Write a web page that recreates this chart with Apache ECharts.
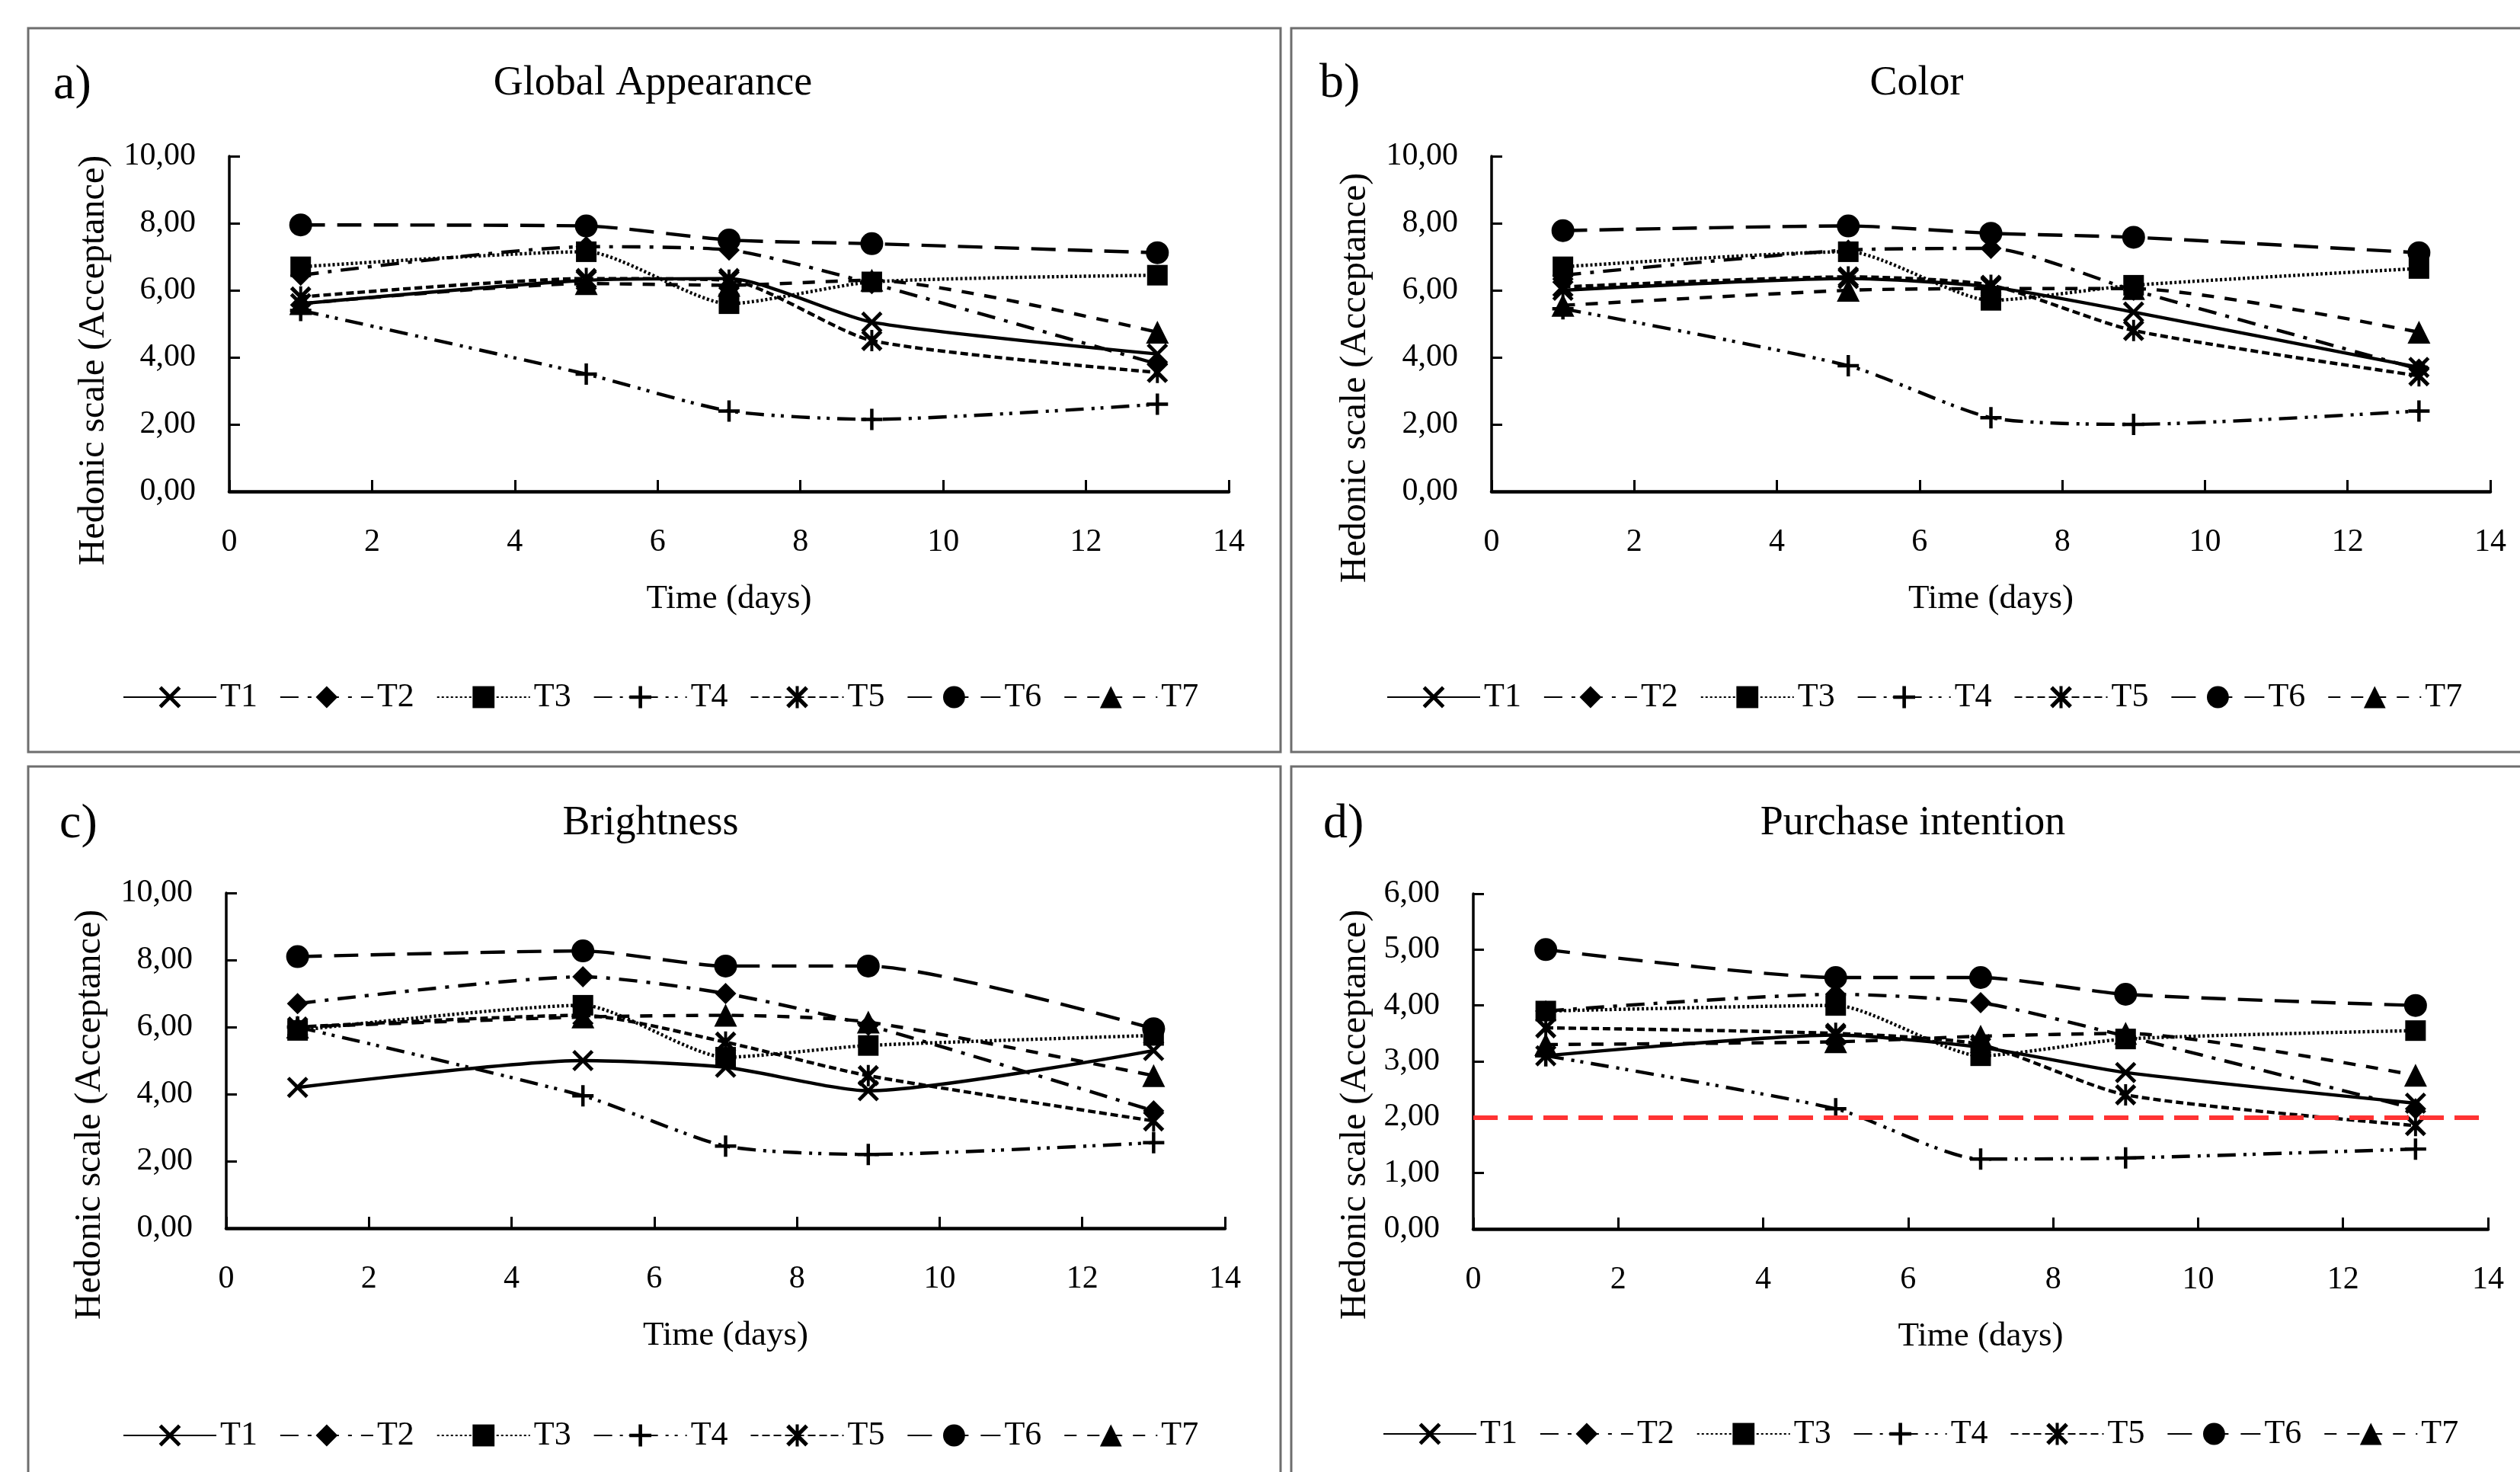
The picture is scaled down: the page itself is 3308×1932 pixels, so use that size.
<!DOCTYPE html>
<html>
<head>
<meta charset="utf-8">
<script src="https://cdn.jsdelivr.net/npm/echarts@6/dist/echarts.min.js"></script>
<style>
html, body { margin: 0; padding: 0; background: #ffffff; }
#chart { width: 3308px; height: 1932px; }
</style>
</head>
<body>
<div id="chart"></div>
<script>
// ---------------- DATA ----------------
const days = [1, 5, 7, 9, 13];
const seriesNames = ['T1', 'T2', 'T3', 'T4', 'T5', 'T6', 'T7'];
const panelTitles = ['Global Appearance', 'Color', 'Brightness', 'Purchase intention'];
const panelLetters = ['a)', 'b)', 'c)', 'd)'];
const yMaxes = [10, 10, 10, 6];
const yIntervals = [2, 2, 2, 1];
const xAxisName = 'Time (days)';
const yAxisName = 'Hedonic scale (Acceptance)';
const purchaseLimit = 2;

// a) Global Appearance
const globalT1 = [5.6, 6.3, 6.35, 5.05, 4.1];
const globalT2 = [6.45, 7.3, 7.2, 6.2, 3.8];
const globalT3 = [6.7, 7.15, 5.6, 6.25, 6.45];
const globalT4 = [5.4, 3.5, 2.4, 2.15, 2.6];
const globalT5 = [5.8, 6.35, 6.3, 4.5, 3.55];
const globalT6 = [7.95, 7.92, 7.5, 7.39, 7.12];
const globalT7 = [5.6, 6.2, 6.15, 6.3, 4.75];

// b) Color
const colorT1 = [6.0, 6.35, 6.1, 5.35, 3.7];
const colorT2 = [6.45, 7.2, 7.25, 6.0, 3.65];
const colorT3 = [6.7, 7.15, 5.7, 6.15, 6.65];
const colorT4 = [5.45, 3.75, 2.2, 2.0, 2.4];
const colorT5 = [6.1, 6.4, 6.15, 4.8, 3.45];
const colorT6 = [7.78, 7.92, 7.7, 7.58, 7.12];
const colorT7 = [5.55, 6.0, 6.05, 6.05, 4.75];

// c) Brightness
const brightT1 = [4.2, 5.0, 4.8, 4.1, 5.3];
const brightT2 = [6.7, 7.5, 7.0, 6.05, 3.5];
const brightT3 = [5.9, 6.65, 5.1, 5.45, 5.75];
const brightT4 = [6.0, 3.95, 2.45, 2.2, 2.55];
const brightT5 = [6.0, 6.35, 5.55, 4.55, 3.2];
const brightT6 = [8.1, 8.27, 7.82, 7.82, 5.95];
const brightT7 = [6.0, 6.3, 6.35, 6.15, 4.55];

// d) Purchase intention
const purchaseT1 = [3.1, 3.47, 3.25, 2.8, 2.25];
const purchaseT2 = [3.9, 4.2, 4.05, 3.45, 2.15];
const purchaseT3 = [3.9, 4.0, 3.1, 3.4, 3.55];
const purchaseT4 = [3.1, 2.15, 1.25, 1.27, 1.43];
const purchaseT5 = [3.6, 3.5, 3.3, 2.4, 1.85];
const purchaseT6 = [5.0, 4.5, 4.5, 4.2, 4.0];
const purchaseT7 = [3.3, 3.35, 3.45, 3.5, 2.75];

const panelData = [
  [globalT1, globalT2, globalT3, globalT4, globalT5, globalT6, globalT7],
  [colorT1, colorT2, colorT3, colorT4, colorT5, colorT6, colorT7],
  [brightT1, brightT2, brightT3, brightT4, brightT5, brightT6, brightT7],
  [purchaseT1, purchaseT2, purchaseT3, purchaseT4, purchaseT5, purchaseT6, purchaseT7]
];

// ---------------- LAYOUT / STYLE ----------------
const FONT = '"Liberation Serif", "DejaVu Serif", serif';
const layout = [
  { grid: { left: 301, top: 205, width: 1312, height: 440 }, title: [857, 110], letter: [70, 112], yName: [123, 473], legend: [161, 893], box: [37, 37, 1644, 950] },
  { grid: { left: 1958, top: 205, width: 1311, height: 440 }, title: [2516, 110], letter: [1732, 110], yName: [1779, 496], legend: [1820, 893], box: [1695, 37, 1700, 950] },
  { grid: { left: 297, top: 1172, width: 1311, height: 440 }, title: [854, 1081], letter: [78, 1082], yName: [118, 1463], legend: [161, 1862], box: [37, 1006, 1644, 1000] },
  { grid: { left: 1934, top: 1173, width: 1332, height: 440 }, title: [2511, 1081], letter: [1737, 1082], yName: [1779, 1463], legend: [1815, 1860], box: [1695, 1006, 1700, 1000] }
];

const X_SYM = 'path://M0,1.2 L1.2,0 L5,3.8 L8.8,0 L10,1.2 L6.2,5 L10,8.8 L8.8,10 L5,6.2 L1.2,10 L0,8.8 L3.8,5 Z';
const PLUS_SYM = 'path://M4.2,0 H5.8 V4.2 H10 V5.8 H5.8 V10 H4.2 V5.8 H0 V4.2 H4.2 Z';
const STAR_SYM = 'path://M0,1.3 L1.3,0 L5,3.7 L8.7,0 L10,1.3 L6.3,5 L10,8.7 L8.7,10 L5,6.3 L1.3,10 L0,8.7 L3.7,5 Z M4.3,0 H5.7 V10 H4.3 Z';

const styles = [
  { symbol: X_SYM, size: 28, dash: 'solid' },
  { symbol: 'diamond', size: 28, dash: [24, 12, 5, 12] },
  { symbol: 'rect', size: 27, dash: [3, 3] },
  { symbol: PLUS_SYM, size: 28, dash: [24, 10, 4, 8, 4, 10] },
  { symbol: STAR_SYM, size: 28, dash: [10, 5] },
  { symbol: 'circle', size: 30, dash: [32, 16] },
  { symbol: 'triangle', size: 30, dash: [16, 14] }
];

const fmt = v => v.toFixed(2).replace('.', ',');

const grids = [], xAxes = [], yAxes = [], series = [], legends = [], graphics = [];

layout.forEach((L, p) => {
  grids.push(Object.assign({ containLabel: false }, L.grid));
  xAxes.push({
    type: 'value', gridIndex: p, min: 0, max: 14, interval: 2,
    name: xAxisName, nameLocation: 'middle', nameGap: 119,
    nameTextStyle: { fontFamily: FONT, fontSize: 45, color: '#000' },
    axisLine: { show: true, onZero: false, lineStyle: { color: '#000', width: 4.5 } },
    axisTick: { show: true, inside: true, length: 15, lineStyle: { color: '#000', width: 3 } },
    axisLabel: { fontFamily: FONT, fontSize: 42, color: '#000', margin: 46 },
    splitLine: { show: false }
  });
  yAxes.push({
    type: 'value', gridIndex: p, min: 0, max: yMaxes[p], interval: yIntervals[p],
    axisLine: { show: true, lineStyle: { color: '#000', width: 3.5 } },
    axisTick: { show: true, inside: true, length: 14, lineStyle: { color: '#000', width: 3 } },
    axisLabel: { fontFamily: FONT, fontSize: 42, color: '#000', margin: 44, formatter: fmt },
    splitLine: { show: false }
  });
  panelData[p].forEach((vals, s) => {
    const st = styles[s];
    const ser = {
      type: 'line', name: seriesNames[s], xAxisIndex: p, yAxisIndex: p,
      data: days.map((d, i) => [d, vals[i]]),
      smooth: 0.22,
      symbol: st.symbol, symbolSize: st.size, showSymbol: true,
      itemStyle: { color: '#000' },
      lineStyle: { color: '#000', width: 4.4, type: st.dash },
      z: 3
    };
    if (p === 3 && s === 0) {
      ser.markLine = {
        silent: true, symbol: ['none', 'none'], label: { show: false },
        lineStyle: { color: '#ff3333', width: 6, type: [32, 14] },
        data: [{ yAxis: purchaseLimit }]
      };
    }
    series.push(ser);
  });
  legends.push({
    left: L.legend[0], top: L.legend[1], padding: 0,
    itemWidth: 122, itemHeight: 36, itemGap: 29,
    data: seriesNames,
    textStyle: { fontFamily: FONT, fontSize: 44, color: '#000', padding: [0, 0, 0, 0] }
  });
  graphics.push({
    type: 'rect', shape: { x: L.box[0], y: L.box[1], width: L.box[2], height: L.box[3] },
    style: { fill: 'none', stroke: '#6e6e6e', lineWidth: 3 }, silent: true
  });
  graphics.push({
    type: 'text', x: L.title[0], y: L.title[1],
    style: { text: panelTitles[p], font: '54px ' + FONT, fill: '#000', textAlign: 'center', textVerticalAlign: 'middle' }
  });
  graphics.push({
    type: 'text', x: L.letter[0], y: L.letter[1],
    style: { text: panelLetters[p], font: '64px ' + FONT, fill: '#000', textAlign: 'left', textVerticalAlign: 'middle' }
  });
  graphics.push({
    type: 'text', x: L.yName[0], y: L.yName[1], rotation: Math.PI / 2,
    style: { text: yAxisName, font: '48px ' + FONT, fill: '#000', textAlign: 'center', textVerticalAlign: 'middle' }
  });
});

const chart = echarts.init(document.getElementById('chart'), null, { renderer: 'canvas' });
chart.setOption({
  backgroundColor: '#ffffff',
  animation: false,
  grid: grids,
  xAxis: xAxes,
  yAxis: yAxes,
  legend: legends,
  series: series,
  graphic: graphics
});
</script>
</body>
</html>
